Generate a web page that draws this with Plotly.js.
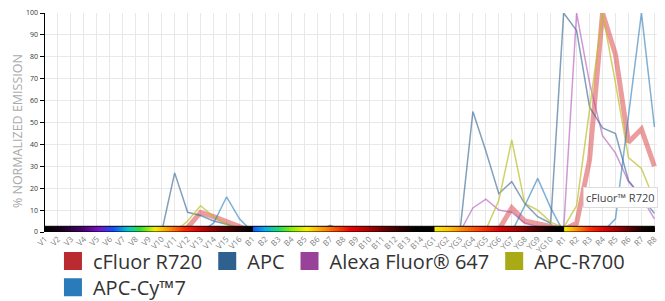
<!DOCTYPE html>
<html>
<head>
<meta charset="utf-8">
<script src="https://cdn.plot.ly/plotly-3.0.1.min.js"></script>
<style>html,body{margin:0;padding:0;background:#fff;}#chart{width:665px;height:301px;}</style>
</head>
<body>
<div id="chart"></div>
<script>
// Detector channels
const violet = ["V1","V2","V3","V4","V5","V6","V7","V8","V9","V10","V11","V12","V13","V14","V15","V16"];
const blue = ["B1","B2","B3","B4","B5","B6","B7","B8","B9","B10","B11","B12","B13","B14"];
const yellowGreen = ["YG1","YG2","YG3","YG4","YG5","YG6","YG7","YG8","YG9","YG10"];
const red = ["R1","R2","R3","R4","R5","R6","R7","R8"];
const channels = violet.concat(blue, yellowGreen, red);

// % normalized emission per channel (V..., B..., YG..., R...)
const cFluorR720 = [0,0,0,0,0,0,0,0,0,0,0,2,9,7,5,2.5,
  0,0,0,0,0,0,0,0,0,0,0,0,0,0,
  0,0,0,0,0,1,11,5,4,2.5,
  1,4,33,100,81,41,47,30];
const apc = [0,0,0,0,0,0,0,0,0,0,27,9,7.5,5,3.5,1.5,
  0,0,0,0,0,0.5,3,0.5,0,0,0,0,0,0,
  0,0,0,55,37,17.5,23,13,7,4,
  100,92,57,47.5,45,23.5,16,8.5];
const alexa647 = [0,0,0,0,0,0,0,0,0,0,0,0,0,0,0,0,
  0,0,0,0,0,0,0,0,0,0,0,0,0,0,
  0,0,0,11,15,10,9,4,2.3,0.8,
  1,100,68,44,36,23,16,6];
const apcR700 = [0,0,0,0,0,0,0,0,0,0,0,5,12,7,3.5,1.5,
  0,0,0,0,0,0,0,0,0,0,0,0,0,0,
  0,0,0,0,1,14.5,42,13,10,4.5,
  2,12,56,100,68,34,29,14.5];
const apcCy7 = [0,0,0,0,0,0,0,0,0,0,0,0,0,4,16,6,
  0,0,0,0,0,0,0,0,0,0,0,0,0,0,
  0,0,0,0,0,0,0,12,24.5,11,
  0,0,0,0,6,53,100,48];

const seriesNames = ["cFluor R720","APC","Alexa Fluor® 647","APC-R700","APC-Cy™7"];
const seriesData = [cFluorR720, apc, alexa647, apcR700, apcCy7];
const legendColors = ["#b92b30","#2f6190","#984399","#a8ab15","#2a7bba"];
const lineColors = ["rgba(220,85,85,0.58)","rgba(47,97,144,0.6)","rgba(170,70,180,0.55)","rgba(190,190,40,0.7)","rgba(42,123,186,0.6)"];
const lineWidths = [5,1.5,1.5,1.5,1.5];
const legendOf = ["legend","legend","legend","legend","legend2"];

// laser strip groups: [first channel, end channel, colorscale]
const stripGroups = [
  ["V1","B1",[[0,"#000000"],[0.08,"#1a0020"],[0.18,"#4a0070"],[0.26,"#7a10d0"],[0.33,"#1050ff"],[0.4,"#00c8d0"],[0.46,"#30e030"],[0.53,"#f0f000"],[0.6,"#ff9000"],[0.67,"#ff2800"],[0.75,"#d00000"],[0.84,"#700000"],[0.92,"#300000"],[1,"#000000"]]],
  ["B1","YG1",[[0,"#1050ff"],[0.07,"#00b0f0"],[0.15,"#20e060"],[0.22,"#90f000"],[0.3,"#f8f000"],[0.38,"#ffa000"],[0.46,"#ff5000"],[0.54,"#f00000"],[0.62,"#c00000"],[0.72,"#700000"],[0.82,"#300000"],[0.9,"#000000"],[1,"#000000"]]],
  ["YG1","R1",[[0,"#f8f000"],[0.12,"#ffc000"],[0.25,"#ff7000"],[0.38,"#ff3000"],[0.5,"#e00000"],[0.65,"#a00000"],[0.78,"#500000"],[0.9,"#100000"],[1,"#000000"]]],
  ["R1","R8",[[0,"#f8f000"],[0.12,"#ffa000"],[0.28,"#ff3000"],[0.45,"#e00000"],[0.6,"#a00000"],[0.75,"#500000"],[0.88,"#100000"],[1,"#000000"]]]
];
const STRIP_TOP = 2.6;

const traces = [];
seriesData.forEach((vals, i) => {
  traces.push({
    type: "scatter", mode: "lines", x: channels, y: vals,
    line: {color: lineColors[i], width: lineWidths[i]},
    showlegend: false, hoverinfo: "skip", cliponaxis: false
  });
});
seriesData.forEach((vals, i) => {
  traces.push({
    type: "scatter", mode: "markers", x: [null], y: [null], name: seriesNames[i],
    legend: legendOf[i],
    marker: {symbol: "square", size: 16, color: legendColors[i], line: {color: legendColors[i], width: 2}},
    showlegend: true, hoverinfo: "skip"
  });
});
stripGroups.forEach(g => {
  traces.push({
    type: "scatter", mode: "lines", x: [g[0], g[1], g[1], g[0], g[0]], y: [0, 0, STRIP_TOP, STRIP_TOP, 0],
    fill: "toself", fillgradient: {type: "horizontal", colorscale: g[2]},
    line: {color: "#000000", width: 1}, showlegend: false, hoverinfo: "skip"
  });
});

const legendFont = {family: "Open Sans, sans-serif", size: 20, color: "#333"};
const layout = {
  width: 665, height: 301,
  margin: {l: 45, r: 8, t: 13, b: 69, pad: 0, autoexpand: false},
  paper_bgcolor: "#ffffff", plot_bgcolor: "#ffffff",
  font: {family: "Open Sans, sans-serif", color: "#333"},
  showlegend: true,
  legend: {orientation: "h", x: 0.013, xanchor: "left", y: -0.043, yanchor: "top",
    font: legendFont, itemclick: false, traceorder: "normal", bgcolor: "rgba(0,0,0,0)"},
  legend2: {orientation: "h", x: 0.013, xanchor: "left", y: -0.163, yanchor: "top",
    font: legendFont, itemclick: false, traceorder: "normal", bgcolor: "rgba(0,0,0,0)"},
  xaxis: {type: "category", categoryorder: "array", categoryarray: channels, range: [0, 47.2],
    showgrid: true, gridcolor: "#e8e8e8", gridwidth: 1, tickangle: -45, ticks: "",
    tickfont: {size: 8, color: "#808080"}, showline: false, zeroline: false, fixedrange: true},
  yaxis: {range: [0, 100], dtick: 10, showgrid: true, gridcolor: "#e8e8e8", gridwidth: 1,
    showline: true, linecolor: "#000", linewidth: 1.5, ticks: "outside", ticklen: 4, tickcolor: "#000",
    tickfont: {size: 7, color: "#333"}, zeroline: false, fixedrange: true},
  annotations: [
    {text: "% NORMALIZED EMISSION", xref: "paper", yref: "paper", x: -0.046, y: 0.46,
     xanchor: "center", yanchor: "middle", textangle: -90, showarrow: false,
     font: {family: "Open Sans, sans-serif", size: 12.5, color: "#aaa"}},
    {text: "cFluor™ R720", xref: "paper", yref: "paper", x: 0.94, y: 0.157,
     xanchor: "center", yanchor: "middle", showarrow: false, bgcolor: "#ffffff",
     bordercolor: "#dddddd", borderwidth: 1, borderpad: 2,
     font: {family: "Open Sans, sans-serif", size: 11, color: "#444"}}
  ]
};

Plotly.newPlot("chart", traces, layout, {displayModeBar: false, staticPlot: true});
</script>
</body>
</html>
